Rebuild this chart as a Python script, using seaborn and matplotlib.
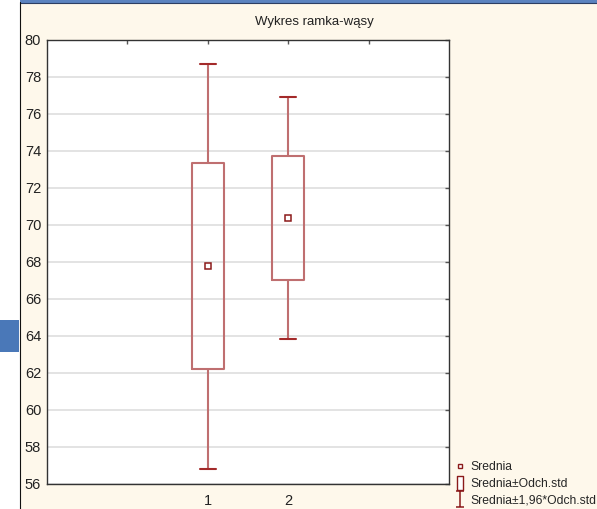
import numpy as np
import pandas as pd
import matplotlib
matplotlib.use("Agg")
import matplotlib.pyplot as plt
from matplotlib.patches import Rectangle
from matplotlib.lines import Line2D
from matplotlib.path import Path
import seaborn as sns

# Group summary: mean and standard deviation
grupy = ["1", "2"]
srednie = [67.77, 70.39]
odch_std = [5.58, 3.34]
mnoznik = 1.96

y_ticks = list(range(56, 81, 2))
tytul = "Wykres ramka-wąsy"
etykiety_legendy = ["Srednia", "Srednia±Odch.std", "Srednia±1,96*Odch.std"]

# Five-number summary per group: whiskers at ±1.96*SD, box at ±SD
rows = []
for g, m, s in zip(grupy, srednie, odch_std):
    for v in (m - mnoznik * s, m - s, m, m + s, m + mnoznik * s):
        rows.append({"grupa": g, "wartosc": v})
df = pd.DataFrame(rows)
df_mean = pd.DataFrame({"grupa": grupy, "srednia": srednie})

sns.set_style("white")
plt.rcParams["font.family"] = ["Liberation Sans", "DejaVu Sans"]

W, H = 597, 509
fig = plt.figure(figsize=(W / 100, H / 100), dpi=100)
fig.patch.set_facecolor("white")

# window background and frame
fig.patches.append(Rectangle((20 / W, 0), 1 - 20 / W, 1 - 3 / H, transform=fig.transFigure,
                             facecolor="#fef8eb", edgecolor="none", zorder=-10))
fig.patches.append(Rectangle((20 / W, 1 - 3 / H), 1 - 20 / W, 3 / H, transform=fig.transFigure,
                             facecolor="#5b83c0", edgecolor="none", zorder=-9))
fig.lines.append(Line2D([20 / W, 1], [1 - 2.5 / H, 1 - 2.5 / H], transform=fig.transFigure,
                        color="#2c3e63", lw=0.8, zorder=-8))
fig.lines.append(Line2D([19.5 / W, 19.5 / W], [0, 1 - 2 / H], transform=fig.transFigure,
                        color="#111111", lw=0.8, zorder=-8))
fig.patches.append(Rectangle((0, (H - 352) / H), 19 / W, 32 / H, transform=fig.transFigure,
                             facecolor="#4a78b8", edgecolor="none", zorder=-9))

ax = fig.add_axes([46.7 / W, 25 / H, (449 - 46.7) / W, (484 - 40) / H])
ax.set_facecolor("white")

linia = "#bf6f70"
ciemna = "#a32a2a"
sns.boxplot(data=df, x="grupa", y="wartosc", order=grupy, width=0.4, whis=np.inf,
            fill=False, showfliers=False, color=linia, linewidth=1.5,
            medianprops={"visible": False},
            capprops={"color": ciemna, "linewidth": 1.5},
            ax=ax)
sns.pointplot(data=df_mean, x="grupa", y="srednia", order=grupy, errorbar=None,
              marker="s", linestyle="none", color="#8b1a1a", markersize=5,
              markerfacecolor="white", markeredgewidth=1.1, ax=ax)

ax.set_xlim(-2, 3)
ax.set_ylim(56, 80)
ax.set_yticks(y_ticks)
ax.set_xticks([0, 1])
ax.set_xticklabels(grupy)
ax.set_xlabel("")
ax.set_ylabel("")
ax.yaxis.grid(True, color="#e0e0e0", lw=1.3)
ax.set_axisbelow(True)
for sp in ax.spines.values():
    sp.set_color("#333333")
    sp.set_linewidth(1.0)
ax.tick_params(axis="both", direction="in", length=3, width=1, color="#555555",
               labelsize=10.5, labelcolor="#222222")
ax.tick_params(axis="y", right=True, pad=4)
ax.tick_params(axis="x", pad=7)

top = ax.secondary_xaxis("top")
top.set_xticks([-1, 0, 1, 2])
top.set_xticklabels([])
top.tick_params(direction="in", length=3, width=1, color="#555555")
top.spines["top"].set_visible(False)

fig.text(314 / W, 1 - 22 / H, tytul, ha="center", va="center", fontsize=9.5, color="#222222")

# legend handles
kwadrat = Line2D([], [], linestyle="none", marker="s", markersize=3.2,
                 markerfacecolor="white", markeredgecolor="#8b1a1a", markeredgewidth=1)
ramka = Path([(-0.42, -1), (0.42, -1), (0.42, 1), (-0.42, 1), (-0.42, -1)])
prostokat = Line2D([], [], linestyle="none", marker=ramka, markersize=10,
                   markerfacecolor="white", markeredgecolor="#8b1a1a", markeredgewidth=1)
wasy = Path([(-0.5, 1), (0.5, 1), (0, 1), (0, -1), (-0.5, -1), (0.5, -1)],
            [Path.MOVETO, Path.LINETO, Path.MOVETO, Path.LINETO, Path.MOVETO, Path.LINETO])
wasy_h = Line2D([], [], linestyle="none", marker=wasy, markersize=11,
                markerfacecolor="none", markeredgecolor="#8b1a1a", markeredgewidth=1.1)
fig.legend([kwadrat, prostokat, wasy_h], etykiety_legendy, loc="lower left",
           bbox_to_anchor=(452 / W, 0 / H), bbox_transform=fig.transFigure,
           frameon=False, fontsize=8.7, handlelength=0.9, handletextpad=0.45,
           labelspacing=0.4, borderpad=0.2, borderaxespad=0)

fig.savefig("out.png", dpi=100)
